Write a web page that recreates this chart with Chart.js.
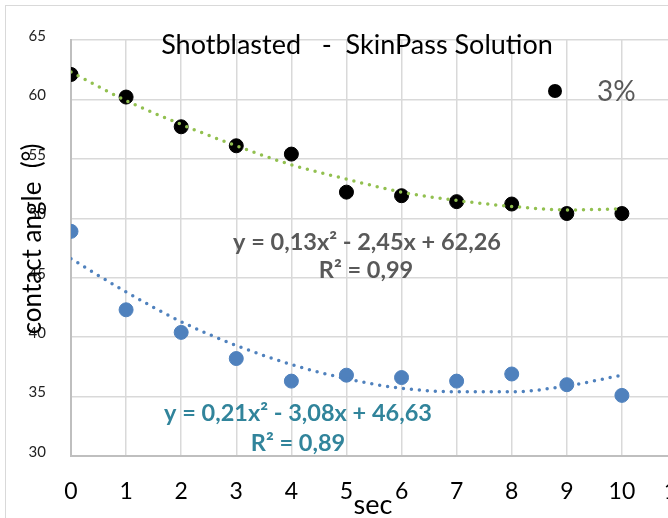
<!DOCTYPE html>
<html>
<head>
<meta charset="utf-8">
<script src="https://cdn.jsdelivr.net/npm/chart.js@4"></script>
<style>
  html, body { margin: 0; padding: 0; background: #fff; overflow: hidden; }
  #wrap { position: relative; width: 668px; height: 518px; overflow: hidden; }
  #chart { position: absolute; left: 0; top: 0; }
</style>
</head>
<body>
<div id="wrap"><canvas id="chart" width="720" height="518"></canvas></div>
<script>
const seconds = [0, 1, 2, 3, 4, 5, 6, 7, 8, 9, 10];
const angle3pct = [62.1, 60.2, 57.7, 56.1, 55.4, 52.2, 51.9, 51.4, 51.2, 50.4, 50.4];
const angleSecond = [48.9, 42.3, 40.4, 38.2, 36.3, 36.8, 36.6, 36.3, 36.9, 36.0, 35.1];
// polynomial trendlines as drawn in the picture
const trend3pct = [62.3, 59.9, 57.9, 56.1, 54.5, 53.3, 52.2, 51.5, 51.0, 50.7, 50.8];
const trendSecond = [46.6, 43.8, 41.3, 39.3, 37.7, 36.5, 35.7, 35.4, 35.4, 35.9, 36.8];
const yTicks = [30, 35, 40, 45, 50, 55, 60, 65];
const xTicks = [0, 1, 2, 3, 4, 5, 6, 7, 8, 9, 10, 11];

const toPoints = (xs, ys) => xs.map((x, i) => ({ x: x, y: ys[i] }));

const FONT = 'Lato, "Open Sans", sans-serif';

// title, axis titles, equations and legend sit on top of the plot
const overlayText = {
  id: 'overlayText',
  afterDraw(chart) {
    const ctx = chart.ctx;
    ctx.save();
    // outer frame
    ctx.strokeStyle = '#d9d9d9';
    ctx.lineWidth = 1;
    ctx.strokeRect(5.5, 5.5, 800, 600);

    ctx.textAlign = 'center';
    ctx.textBaseline = 'middle';

    ctx.fillStyle = '#000';
    ctx.font = '27px ' + FONT;
    ctx.fillText('Shotblasted   -  SkinPass Solution', 357, 45);

    ctx.font = '27px ' + FONT;
    ctx.fillText('sec', 373, 505);

    ctx.save();
    ctx.translate(33, 239);
    ctx.rotate(-Math.PI / 2);
    ctx.font = '26px ' + FONT;
    ctx.fillText('contact angle  (°)', 0, 0);
    ctx.restore();

    ctx.font = 'bold 23.5px ' + FONT;
    ctx.fillStyle = '#595959';
    ctx.fillText('y = 0,13x² - 2,45x + 62,26', 367, 242);
    ctx.fillText('R² = 0,99', 366, 270);

    ctx.fillStyle = '#31849b';
    ctx.fillText('y = 0,21x² - 3,08x + 46,63', 298, 413);
    ctx.fillText('R² = 0,89', 298, 443);

    // legend
    ctx.fillStyle = '#000';
    ctx.beginPath();
    ctx.arc(555, 91, 7, 0, Math.PI * 2);
    ctx.fill();
    ctx.fillStyle = '#595959';
    ctx.textAlign = 'left';
    ctx.font = '28px ' + FONT;
    ctx.fillText('3%', 597, 92);
    ctx.restore();
  }
};

new Chart(document.getElementById('chart'), {
  type: 'scatter',
  plugins: [overlayText],
  data: {
    datasets: [
      {
        label: 'trend 3%',
        type: 'line',
        data: toPoints(seconds, trend3pct),
        borderColor: '#92c050',
        borderWidth: 3.5,
        borderDash: [0, 8],
        borderCapStyle: 'round',
        cubicInterpolationMode: 'monotone',
        pointRadius: 0,
        fill: false,
        order: 0
      },
      {
        label: 'trend second',
        type: 'line',
        data: toPoints(seconds, trendSecond),
        borderColor: '#4f81bd',
        borderWidth: 3.5,
        borderDash: [0, 8],
        borderCapStyle: 'round',
        cubicInterpolationMode: 'monotone',
        pointRadius: 0,
        fill: false,
        order: 0
      },
      {
        label: '3%',
        data: toPoints(seconds, angle3pct),
        backgroundColor: '#000',
        borderColor: '#000',
        pointRadius: 7,
        order: 1
      },
      {
        label: 'second',
        data: toPoints(seconds, angleSecond),
        backgroundColor: '#4f81bd',
        borderColor: '#4f81bd',
        pointRadius: 7,
        order: 1
      }
    ]
  },
  options: {
    responsive: false,
    animation: false,
    layout: { padding: { top: 40, right: 43, left: 0, bottom: 0 } },
    plugins: {
      legend: { display: false },
      tooltip: { enabled: false }
    },
    scales: {
      x: {
        type: 'linear',
        min: 0,
        max: 11,
        afterBuildTicks: scale => { scale.ticks = xTicks.map(v => ({ value: v })); },
        afterFit: scale => { scale.height = 518 - 456; },
        grid: { color: '#d9d9d9', lineWidth: 1.5, drawTicks: false },
        border: { color: '#bfbfbf', width: 2 },
        ticks: {
          padding: 22,
          color: '#000',
          font: { family: FONT, size: 23 }
        }
      },
      y: {
        min: 30,
        max: 65,
        afterBuildTicks: scale => { scale.ticks = yTicks.map(v => ({ value: v })); },
        afterFit: scale => { scale.width = 71; },
        grid: { color: '#d9d9d9', lineWidth: 1.5, drawTicks: false },
        border: { color: '#bfbfbf', width: 2 },
        ticks: {
          padding: 25,
          labelOffset: -4,
          color: '#222',
          font: { family: FONT, size: 15 }
        }
      }
    }
  }
});
</script>
</body>
</html>
